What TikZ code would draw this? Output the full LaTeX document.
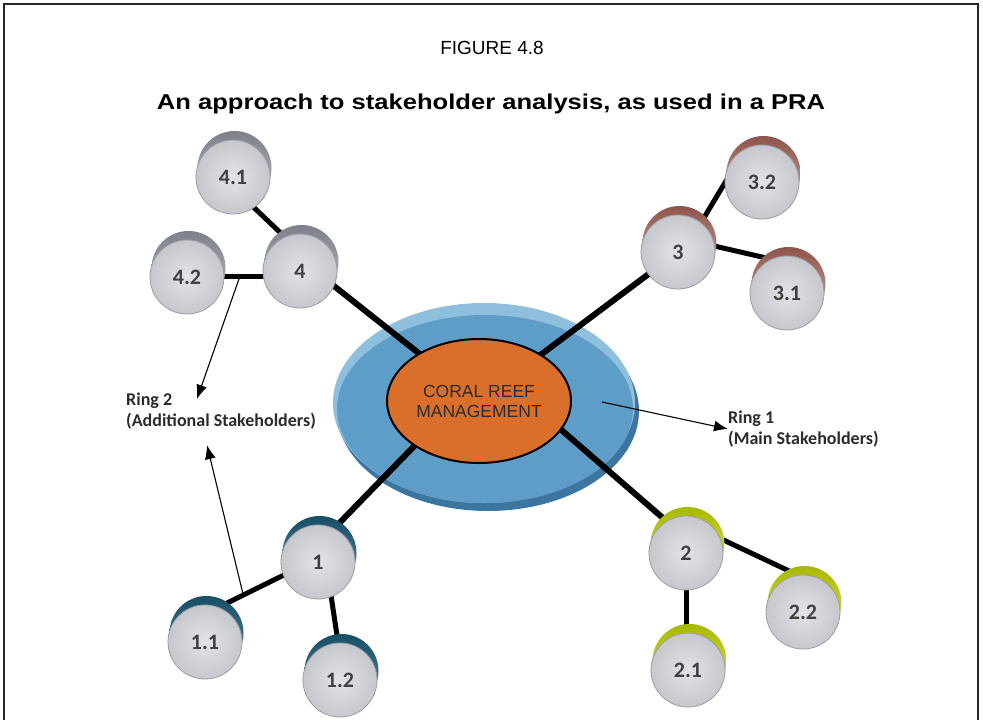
\documentclass[tikz,border=0pt]{standalone}
\usepackage{fontspec}
\setmainfont{Liberation Sans}
\newfontfamily\calibri{Carlito}
\usetikzlibrary{calc,arrows.meta,shapes.geometric}

% palette
\definecolor{facein}{HTML}{E2E3E7}
\definecolor{faceout}{HTML}{C6C8CE}
\definecolor{faceedge}{HTML}{9C9EA6}
\definecolor{labelink}{HTML}{2B2B2B}
\definecolor{rimAtop}{HTML}{174F66}\definecolor{rimAbot}{HTML}{4F8AA3}
\definecolor{rimBtop}{HTML}{A8B800}\definecolor{rimBbot}{HTML}{E2EB5A}
\definecolor{rimCtop}{HTML}{8E554C}\definecolor{rimCbot}{HTML}{D2A8A0}
\definecolor{rimDtop}{HTML}{7D808A}\definecolor{rimDbot}{HTML}{BCBEC6}
\definecolor{pondlight}{HTML}{8EBFDD}
\definecolor{pondface}{HTML}{5E9DC8}
\definecolor{ponddark}{HTML}{3C76A0}
\definecolor{coral}{HTML}{DA6F2C}

\tikzset{
  disc/.style={circle, minimum size=74pt, inner sep=0pt,
    draw=faceedge, line width=0.8pt, inner color=facein, outer color=faceout,
    font=\calibri\bfseries\fontsize{22}{22}\selectfont, text=labelink!90,
    preaction={transform canvas={shift={(1.5pt,9pt)}},
      top color=rim#1top, bottom color=rim#1bot, draw=none}},
  trunk/.style={line width=6pt, black},
  twig/.style={line width=5pt, black},
  pointer/.style={line width=1.1pt, black, -{Latex[length=14pt,width=11pt]}},
  ringtext/.style={font=\calibri\bfseries\fontsize{18}{20.5}\selectfont,
    text=labelink, align=left, inner sep=0pt},
}

\begin{document}
\begin{tikzpicture}[x=1pt, y=-1pt]
  \useasboundingbox (0,0) rectangle (983,720);
  \fill[white] (0,0) rectangle (983,720);

  % frame
  \draw[line width=1.6pt, black!85] (4,720) -- (4,4) -- (978,4) -- (978,720);

  % headings
  \node[font=\fontsize{19}{21}\selectfont] (fig) at (492,48) {FIGURE 4.8};
  \node[font=\bfseries\fontsize{21.5}{23}\selectfont] (sub) at (491,104)
    {\scalebox{1.19}[1]{An approach to stakeholder analysis, as used in a PRA}};

  % central pond (3-d disc)
  \fill[ponddark] (488,411) ellipse [x radius=151, y radius=100];
  \fill[pondlight] (484,403) ellipse [x radius=151, y radius=100];
  \fill[pondface] (485,409) ellipse [x radius=148, y radius=94];

  \coordinate (core) at (479,401);

  % stakeholder positions
  \coordinate (n4)  at (300,271);
  \coordinate (n41) at (233,177);
  \coordinate (n42) at (187,277);
  \coordinate (n3)  at (678,252);
  \coordinate (n32) at (762,182);
  \coordinate (n31) at (787,293);
  \coordinate (n1)  at (318,562);
  \coordinate (n11) at (205,642);
  \coordinate (n12) at (340,680);
  \coordinate (n2)  at (686,553);
  \coordinate (n21) at (688,670);
  \coordinate (n22) at (803,612);

  % main links
  \draw[trunk] ($(n4)+(0,-12)$) -- (core);
  \draw[trunk] (n3) -- (core);
  \draw[trunk] ($(n1)+(0,-17)$) -- ($(core)+(-21,0)$);
  \draw[trunk] ($(n2)+(0,-15)$) -- ($(core)+(49,0)$);

  % core
  \node[ellipse, draw=black, line width=2pt, fill=coral,
        minimum width=184pt, minimum height=124pt, inner sep=0pt,
        font=\fontsize{17.5}{20}\selectfont, text=labelink, align=center]
        (hub) at (core) {CORAL REEF\\MANAGEMENT};

  % secondary links
  \draw[twig] ($(n41)+(12,22)$) -- ($(n4)+(-12,-31)$);
  \draw[twig] ($(n42)+(20,-1)$) -- ($(n4)+(-20,5)$);
  \draw[twig] ($(n3)+(18,-21)$) -- ($(n32)+(-30,-11)$);
  \draw[twig] ($(n3)+(32,-7)$) -- ($(n31)+(-12,-33)$);
  \draw[twig] ($(n11)+(10,-33)$) -- ($(n1)+(-26,9)$);
  \draw[twig] ($(n1)+(11,20)$) -- ($(n12)+(-2,-38)$);
  \draw[twig] ($(n2)+(0,25)$) -- ($(n21)+(-2,-38)$);
  \draw[twig] ($(n2)+(29,-17)$) -- ($(n22)+(1,-34)$);

  % stakeholder discs
  \node[disc=D] (s4)  at (n4)  {4};
  \node[disc=D] (s41) at (n41) {4.1};
  \node[disc=D] (s42) at (n42) {4.2};
  \node[disc=C] (s3)  at (n3)  {3};
  \node[disc=C] (s32) at (n32) {3.2};
  \node[disc=C] (s31) at (n31) {3.1};
  \node[disc=A] (s1)  at (n1)  {1};
  \node[disc=A] (s11) at (n11) {1.1};
  \node[disc=A] (s12) at (n12) {1.2};
  \node[disc=B] (s2)  at (n2)  {2};
  \node[disc=B] (s21) at (n21) {2.1};
  \node[disc=B] (s22) at (n22) {2.2};

  % ring labels
  \node[ringtext, anchor=west] (ring1) at (728,429) {Ring 1\\(Main Stakeholders)};
  \node[ringtext, anchor=west] (ring2) at (126,411) {Ring 2\\(Additional Stakeholders)};

  % pointers
  \coordinate (r1a) at ($(core)+(123,1)$);
  \draw[pointer] (r1a) -- (ring1.west);
  \coordinate (r2a) at ($(n42)+(53,-1)$);
  \draw[pointer] (r2a) -- ($(ring2.north west)+(71,6)$);
  \coordinate (r2b) at ($(n11)+(38,-48)$);
  \draw[pointer] (r2b) -- ($(ring2.south west)+(81,16)$);
\end{tikzpicture}
\end{document}
